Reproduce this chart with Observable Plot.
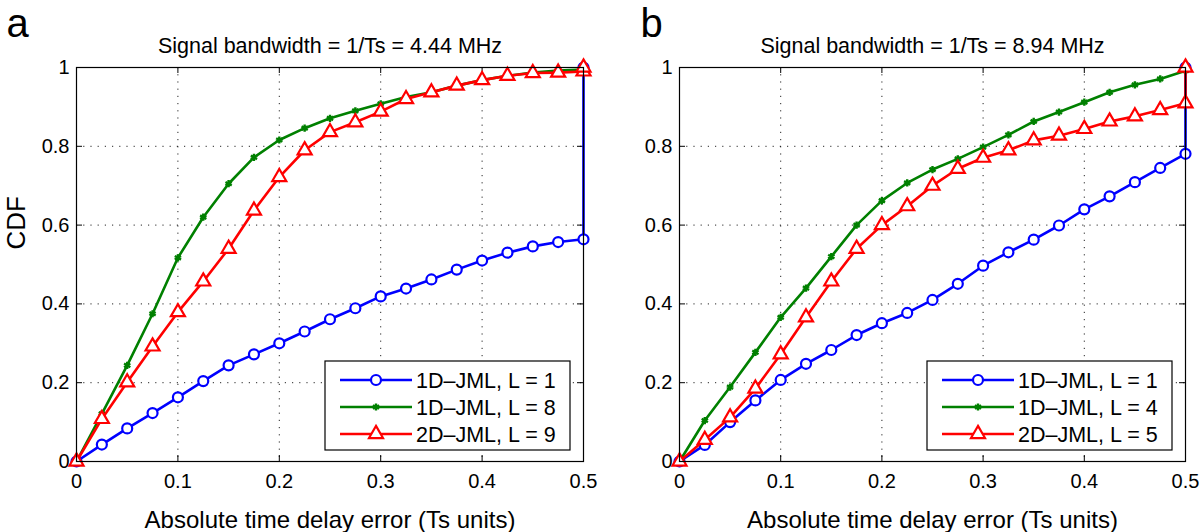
<!DOCTYPE html>
<html>
<head>
<meta charset="utf-8">
<script src="https://cdn.jsdelivr.net/npm/d3@7"></script>
<script src="https://cdn.jsdelivr.net/npm/@observablehq/plot@0.6"></script>
<style>
  html, body { margin: 0; padding: 0; background: white; }
  #wrap { position: relative; width: 1200px; height: 532px; overflow: hidden; background: white; }
  #wrap > div, #wrap > svg { position: absolute; top: 0; }
</style>
</head>
<body>
<div id="wrap"></div>
<script>
// ---------- data ----------
const delayErr = [0, 0.025, 0.05, 0.075, 0.1, 0.125, 0.15, 0.175, 0.2, 0.225, 0.25, 0.275, 0.3, 0.325, 0.35, 0.375, 0.4, 0.425, 0.45, 0.475, 0.5, 0.5];

// Panel a: 1/Ts = 4.44 MHz
const aBlue  = [0, 0.043, 0.084, 0.123, 0.163, 0.204, 0.244, 0.272, 0.300, 0.330, 0.361, 0.389, 0.419, 0.439, 0.462, 0.487, 0.510, 0.530, 0.546, 0.557, 0.564, 1];
const aGreen = [0, 0.121, 0.244, 0.375, 0.517, 0.620, 0.705, 0.772, 0.816, 0.846, 0.871, 0.890, 0.908, 0.925, 0.937, 0.954, 0.968, 0.979, 0.987, 0.992, 0.995, 1];
const aRed   = [0, 0.108, 0.201, 0.292, 0.379, 0.457, 0.540, 0.637, 0.722, 0.790, 0.836, 0.861, 0.888, 0.920, 0.937, 0.954, 0.968, 0.979, 0.986, 0.987, 0.990, 1];
const aNames = ["1D\u2013JML, L = 1", "1D\u2013JML, L = 8", "2D\u2013JML, L = 9"];

// Panel b: 1/Ts = 8.94 MHz
const bBlue  = [0, 0.042, 0.100, 0.155, 0.207, 0.248, 0.283, 0.321, 0.351, 0.377, 0.410, 0.451, 0.497, 0.531, 0.563, 0.599, 0.640, 0.673, 0.709, 0.745, 0.781, 1];
const bGreen = [0, 0.104, 0.189, 0.277, 0.366, 0.440, 0.520, 0.600, 0.662, 0.707, 0.741, 0.768, 0.798, 0.829, 0.863, 0.887, 0.912, 0.937, 0.956, 0.971, 0.992, 1];
const bRed   = [0, 0.055, 0.112, 0.185, 0.272, 0.366, 0.457, 0.540, 0.600, 0.648, 0.700, 0.743, 0.771, 0.790, 0.815, 0.827, 0.844, 0.863, 0.876, 0.892, 0.909, 1];
const bNames = ["1D\u2013JML, L = 1", "1D\u2013JML, L = 4", "2D\u2013JML, L = 5"];

const xTicks = [0, 0.1, 0.2, 0.3, 0.4, 0.5];
const yTicks = [0, 0.2, 0.4, 0.6, 0.8, 1];
const xGridTicks = [0.1, 0.2, 0.3, 0.4];
const yGridTicks = [0.2, 0.4, 0.6, 0.8];

const titles = ["Signal bandwidth = 1/Ts = 4.44 MHz", "Signal bandwidth = 1/Ts = 8.94 MHz"];
const panelLetters = ["a", "b"];
const xLabel = "Absolute time delay error (Ts units)";
const yLabel = "CDF";

// ---------- styling ----------
const colors = ["#0000ff", "#008000", "#ff0000"];
const symbols = ["circle", "asterisk", "triangle"];
const symR = [5, 3.4, 5.2];
const symW = [2.2, 2.4, 2.2];
const symFill = ["white", "none", "white"];
const FONT = "'Liberation Sans', Arial, Helvetica, sans-serif";

function panel({series, names, title, letter, left, marginLeft, marginRight, letterDx, showYLabel}) {
  const H = 532, W = 600, mt = 67, mb = 71;
  const pw = W - marginLeft - marginRight, ph = H - mt - mb;
  const marks = [
    Plot.gridX(xGridTicks, {stroke: "#000", strokeOpacity: 0.85, strokeWidth: 1, strokeDasharray: "1.2,6"}),
    Plot.gridY(yGridTicks, {stroke: "#000", strokeOpacity: 0.85, strokeWidth: 1, strokeDasharray: "1.2,6"}),
    // inward ticks on all four sides
    Plot.ruleX(xTicks, {x: d => d, stroke: "#000", insetTop: ph - 6}),
    Plot.ruleX(xTicks, {x: d => d, stroke: "#000", insetBottom: ph - 6}),
    Plot.ruleY(yTicks, {y: d => d, stroke: "#000", insetRight: pw - 6}),
    Plot.ruleY(yTicks, {y: d => d, stroke: "#000", insetLeft: pw - 6}),
    Plot.axisX(xTicks, {tickSize: 0, tickPadding: 12, tickFormat: d => String(d), label: null, fontSize: 20}),
    Plot.axisY(yTicks, {tickSize: 0, tickPadding: 7, tickFormat: d => String(d), label: null, fontSize: 20}),
  ];
  series.forEach((vals, k) => {
    const rows = vals.map((v, i) => ({x: delayErr[i], y: v}));
    marks.push(Plot.line(rows, {x: "x", y: "y", stroke: colors[k], strokeWidth: 2.6, curve: "linear"}));
    marks.push(Plot.dot(rows, {x: "x", y: "y", symbol: symbols[k], r: symR[k], stroke: colors[k], strokeWidth: symW[k], fill: symFill[k]}));
  });
  marks.push(Plot.frame({stroke: "#000", strokeWidth: 1.2}));
  marks.push(Plot.text([title], {frameAnchor: "top", dy: -15, lineAnchor: "bottom", fontSize: 21.5, fill: "#000"}));
  marks.push(Plot.text([xLabel], {frameAnchor: "bottom", dy: 66, lineAnchor: "bottom", fontSize: 24, fill: "#000"}));
  marks.push(Plot.text([letter], {frameAnchor: "top-left", textAnchor: "start", lineAnchor: "bottom", dx: letterDx, dy: -31, fontSize: 40, fill: "#000"}));
  if (showYLabel) {
    marks.push(Plot.text([yLabel], {frameAnchor: "left", rotate: -90, dx: -60, dy: -15, fontSize: 26, fill: "#000"}));
  }
  const chart = Plot.plot({
    width: W, height: H,
    marginTop: mt, marginBottom: mb, marginLeft, marginRight,
    x: {domain: [0, 0.5]},
    y: {domain: [0, 1]},
    style: {fontFamily: FONT, fontSize: "20px", color: "#000", background: "white", overflow: "visible"},
    marks
  });
  chart.style.left = left + "px";
  // legend box (bottom-right corner of the frame)
  const svg = d3.select(chart);
  const bw = 245, bh = 89;
  const bx = W - marginRight - 13 - bw, by = H - mb - 11 - bh;
  const g = svg.append("g").attr("transform", `translate(${bx},${by})`);
  g.append("rect").attr("width", bw).attr("height", bh).attr("fill", "white").attr("stroke", "#000").attr("stroke-width", 1.2);
  const symMap = {circle: d3.symbolCircle, asterisk: d3.symbolAsterisk, triangle: d3.symbolTriangle};
  names.forEach((name, k) => {
    const yy = 19 + k * 27;
    g.append("line").attr("x1", 15).attr("x2", 87).attr("y1", yy).attr("y2", yy)
      .attr("stroke", colors[k]).attr("stroke-width", 2.6);
    g.append("path").attr("transform", `translate(51,${yy})`)
      .attr("d", d3.symbol(symMap[symbols[k]], Math.PI * symR[k] * symR[k])())
      .attr("stroke", colors[k]).attr("stroke-width", symW[k]).attr("fill", symFill[k]);
    g.append("text").attr("x", 91).attr("y", yy).attr("dy", "0.35em")
      .attr("text-anchor", "start")
      .attr("font-family", FONT).attr("font-size", 21.5).attr("fill", "#000").text(name);
  });
  return chart;
}

const wrap = document.getElementById("wrap");
wrap.appendChild(panel({series: [aBlue, aGreen, aRed], names: aNames, title: titles[0], letter: panelLetters[0], left: 0, marginLeft: 76, marginRight: 17, letterDx: -70, showYLabel: true}));
wrap.appendChild(panel({series: [bBlue, bGreen, bRed], names: bNames, title: titles[1], letter: panelLetters[1], left: 600, marginLeft: 79, marginRight: 15, letterDx: -39, showYLabel: false}));
</script>
</body>
</html>
